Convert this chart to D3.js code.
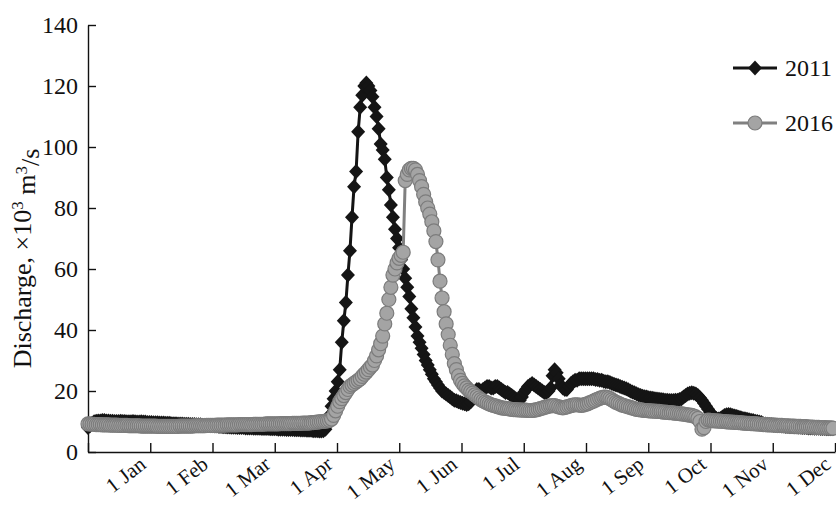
<!DOCTYPE html>
<html>
<head>
<meta charset="utf-8">
<script src="https://cdn.jsdelivr.net/npm/d3@7"></script>
<style>
  body { margin: 0; background: #fff; }
  svg text { font-family: "Liberation Serif", "DejaVu Serif", serif; fill: #111; }
</style>
</head>
<body>
<div id="chart"></div>
<script>
// month labels on the x axis (tick 0 is the axis start, unlabelled)
const monthLabels = ['1 Jan', '1 Feb', '1 Mar', '1 Apr', '1 May', '1 Jun',
                     '1 Jul', '1 Aug', '1 Sep', '1 Oct', '1 Nov', '1 Dec'];
const yTicks = [0, 20, 40, 60, 80, 100, 120, 140];
const seriesNames = ['2011', '2016'];

// daily discharge, x10^3 m3/s (day 0 = axis start)
const q2011 = [
  8.0, 8.6, 9.4, 9.9, 10.1, 10.2, 10.2, 10.3, 10.3, 10.2,
  10.2, 10.1, 10.1, 10.0, 10.0, 10.0, 10.1, 10.0, 10.0, 9.9,
  9.9, 9.9, 10.0, 9.9, 9.8, 9.8, 9.9, 9.8, 9.8, 9.7,
  9.7, 9.7, 9.6, 9.6, 9.6, 9.5, 9.5, 9.5, 9.4, 9.4,
  9.4, 9.3, 9.3, 9.3, 9.2, 9.2, 9.2, 9.1, 9.1, 9.1,
  9.0, 9.0, 9.0, 8.9, 8.9, 8.9, 8.8, 8.8, 8.7, 8.7,
  8.6, 8.6, 8.5, 8.5, 8.4, 8.4, 8.3, 8.3, 8.2, 8.2,
  8.1, 8.1, 8.1, 8.0, 8.0, 8.0, 8.0, 7.9, 7.9, 7.9,
  7.9, 7.8, 7.8, 7.8, 7.8, 7.7, 7.7, 7.7, 7.7, 7.6,
  7.6, 7.6, 7.6, 7.5, 7.5, 7.5, 7.5, 7.4, 7.4, 7.4,
  7.4, 7.3, 7.3, 7.3, 7.2, 7.2, 7.2, 7.1, 7.1, 7.1,
  7.0, 7.0, 7.0, 6.9, 6.9, 7.0, 7.5, 9.0, 12.0, 15.0,
  17.5, 20.0, 23.0, 27.0, 36.0, 43.0, 49.0, 58.0, 66.0, 77.0,
  87.0, 92.0, 105.0, 113.0, 117.0, 120.0, 121.0, 120.0, 118.5, 116.5,
  113.0, 110.0, 106.0, 101.0, 99.0, 96.0, 90.0, 86.0, 81.0, 77.0,
  73.0, 70.0, 67.0, 63.0, 60.0, 57.0, 54.0, 51.0, 47.0, 44.0,
  41.0, 38.0, 36.0, 34.0, 32.0, 30.0, 28.5, 27.0, 25.5, 24.0,
  23.0, 22.0, 21.0, 20.0, 19.5, 19.0, 18.5, 18.0, 17.5, 17.0,
  16.8, 16.5, 16.2, 16.0, 15.8, 15.6, 15.8, 16.5, 18.0, 19.5,
  20.5, 20.5, 20.0, 20.5, 21.0, 21.5, 21.5, 21.0, 21.0, 21.5,
  21.5, 21.0, 20.5, 20.0, 19.5, 19.5, 19.0, 18.5, 18.0, 17.5,
  17.0, 17.0, 18.0, 19.5, 20.5, 21.5, 22.0, 22.5, 22.0, 21.5,
  21.0, 20.5, 20.0, 19.5, 19.5, 20.0, 21.0, 25.0, 27.0, 26.0,
  24.0, 22.0, 21.0, 20.5, 20.5, 21.5, 22.5, 23.0, 23.5, 23.5,
  24.0, 24.0, 24.0, 24.0, 24.0, 24.0, 24.0, 24.0, 23.8, 23.8,
  23.5, 23.5, 23.2, 23.0, 23.0, 22.8, 22.5, 22.2, 22.0, 21.8,
  21.5, 21.2, 21.0, 20.7, 20.4, 20.0, 19.7, 19.4, 19.1, 18.8,
  18.5, 18.3, 18.1, 18.0, 17.8, 17.7, 17.6, 17.5, 17.4, 17.3,
  17.2, 17.1, 17.0, 17.0, 16.9, 16.9, 16.9, 17.0, 17.0, 17.2,
  17.5, 18.0, 18.5, 19.0, 19.3, 19.4, 19.3, 19.0, 18.5, 17.8,
  17.0, 16.0, 15.0, 14.0, 13.0, 12.2, 11.5, 11.0, 10.8, 11.0,
  11.5, 12.0, 12.2, 12.3, 12.2, 12.0, 11.8, 11.6, 11.4, 11.2,
  11.0, 10.9, 10.7, 10.6, 10.4, 10.3, 10.1, 10.0, 9.8, 9.7,
  9.3, 9.2, 9.1, 9.0, 8.9, 8.8, 8.7, 8.6, 8.6, 8.5,
  8.5, 8.4, 8.4, 8.3, 8.3, 8.2, 8.2, 8.1, 8.1, 8.0,
  8.0, 8.0, 7.9, 7.9, 7.9, 7.8, 7.8, 7.8, 7.7, 7.7,
  7.7, 7.6, 7.6, 7.6, 7.6
];

const q2016 = [
  9.2, 9.2, 9.1, 9.1, 9.0, 9.0, 9.0, 8.9, 8.9, 8.9,
  8.9, 8.8, 8.8, 8.8, 8.8, 8.7, 8.7, 8.7, 8.7, 8.7,
  8.6, 8.6, 8.6, 8.6, 8.6, 8.6, 8.5, 8.5, 8.5, 8.5,
  8.5, 8.5, 8.5, 8.5, 8.4, 8.4, 8.4, 8.4, 8.4, 8.4,
  8.4, 8.4, 8.4, 8.4, 8.4, 8.5, 8.5, 8.5, 8.5, 8.5,
  8.5, 8.5, 8.6, 8.6, 8.6, 8.6, 8.6, 8.6, 8.7, 8.7,
  8.7, 8.7, 8.7, 8.8, 8.8, 8.8, 8.8, 8.8, 8.9, 8.9,
  8.9, 8.9, 8.9, 8.9, 9.0, 9.0, 9.0, 9.0, 9.0, 9.0,
  9.0, 9.1, 9.1, 9.1, 9.1, 9.1, 9.1, 9.2, 9.2, 9.2,
  9.2, 9.2, 9.2, 9.2, 9.3, 9.3, 9.3, 9.3, 9.3, 9.3,
  9.4, 9.4, 9.4, 9.4, 9.4, 9.5, 9.5, 9.5, 9.5, 9.6,
  9.6, 9.7, 9.8, 9.9, 10.0, 10.0, 10.1, 10.2, 10.4, 10.8,
  12.0, 13.5, 15.0, 16.5, 17.5, 18.5, 19.5, 20.5, 21.5, 22.0,
  22.5, 23.0, 23.5, 24.0, 24.8, 25.5, 26.2, 27.0, 27.8, 28.5,
  30.0, 31.5, 33.5, 35.5, 38.0, 42.0, 45.5, 50.0, 54.0, 58.0,
  60.0, 62.0, 63.5, 64.5, 65.5, 89.0, 91.0, 92.5, 93.0, 93.0,
  92.5, 91.0, 89.0, 87.0, 84.5, 82.0, 80.0, 78.0, 75.5, 72.5,
  69.0, 63.0, 56.0, 50.5, 46.0, 42.0, 38.5, 35.0, 32.0, 29.0,
  27.0, 25.0, 23.5, 22.5, 21.7, 21.0, 20.3, 19.8, 19.3, 18.7,
  18.2, 17.7, 17.2, 16.8, 16.4, 16.1, 15.8, 15.5, 15.3, 15.1,
  14.9, 14.7, 14.5, 14.4, 14.3, 14.2, 14.1, 14.0, 13.9, 13.9,
  13.8, 13.8, 13.7, 13.7, 13.7, 13.6, 13.6, 13.6, 13.7, 13.8,
  14.0, 14.2, 14.4, 14.6, 14.8, 15.0, 15.1, 15.2, 15.2, 15.0,
  14.8, 14.6, 14.5, 14.6, 14.8, 15.0, 15.2, 15.4, 15.5, 15.5,
  15.4, 15.3, 15.4, 15.6, 15.8, 16.1, 16.4, 16.7, 17.0, 17.3,
  17.6, 17.8, 18.0, 18.0, 17.8, 17.5, 17.1, 16.7, 16.3, 16.0,
  15.7, 15.4, 15.2, 15.0, 14.8, 14.6, 14.4, 14.2, 14.0, 13.9,
  13.8, 13.7, 13.6, 13.6, 13.5, 13.5, 13.4, 13.4, 13.3, 13.3,
  13.2, 13.1, 13.1, 13.0, 12.9, 12.9, 12.8, 12.7, 12.7, 12.6,
  12.5, 12.4, 12.3, 12.2, 12.1, 12.0, 11.8, 11.5, 11.0, 10.0,
  7.5, 8.0, 10.0, 10.5, 10.4, 10.3, 10.2, 10.2, 10.1, 10.1,
  10.0, 10.0, 9.9, 9.9, 9.8, 9.8, 9.7, 9.7, 9.6, 9.6,
  9.5, 9.5, 9.4, 9.4, 9.3, 9.3, 9.2, 9.2, 9.1, 9.1,
  9.0, 9.0, 8.9, 8.9, 8.9, 8.8, 8.8, 8.7, 8.7, 8.7,
  8.6, 8.6, 8.6, 8.5, 8.5, 8.5, 8.4, 8.4, 8.4, 8.3,
  8.3, 8.3, 8.2, 8.2, 8.2, 8.1, 8.1, 8.1, 8.0, 8.0,
  8.0, 7.9, 7.9, 7.9, 7.8
];

const width = 836;
const height = 506;
const margin = { top: 25, right: 1, bottom: 54, left: 88 };
const nDays = 365;

const svg = d3.select('#chart')
  .append('svg')
  .attr('width', width)
  .attr('height', height);

const x = d3.scaleLinear()
  .domain([0, nDays])
  .range([margin.left, width - margin.right]);

const y = d3.scaleLinear()
  .domain([0, 140])
  .range([height - margin.bottom, margin.top]);

// month ticks are evenly spaced on the original axis
const monthTicks = d3.range(0, 13).map(k => k * nDays / 12);

// x axis, ticks pointing into the plot
const xAxis = svg.append('g')
  .attr('transform', `translate(0,${y(0)})`)
  .call(d3.axisBottom(x)
    .tickValues(monthTicks)
    .tickSizeInner(-9)
    .tickSizeOuter(0)
    .tickFormat((d, i) => i === 0 ? '' : monthLabels[i - 1]));

xAxis.selectAll('text')
  .attr('x', 0)
  .attr('y', 0)
  .attr('dy', '0.35em')
  .attr('text-anchor', 'end')
  .attr('transform', 'translate(-8,9) rotate(-38)')
  .style('font-size', '21px');

// y axis
const yAxis = svg.append('g')
  .attr('transform', `translate(${x(0)},0)`)
  .call(d3.axisLeft(y)
    .tickValues(yTicks)
    .tickSizeInner(-8)
    .tickSizeOuter(0)
    .tickPadding(10));

yAxis.selectAll('text').style('font-size', '24px');

svg.selectAll('.domain, .tick line')
  .attr('stroke', '#111')
  .attr('stroke-width', 1.4);

// y axis title
const title = svg.append('text')
  .attr('transform', `translate(31,${(y(0) + y(140)) / 2 + 20}) rotate(-90)`)
  .attr('text-anchor', 'middle')
  .style('font-size', '26px');
title.append('tspan').text('Discharge, \u00d710');
title.append('tspan').attr('dy', '-0.45em').style('font-size', '17px').text('3');
title.append('tspan').attr('dy', '0.45em').text(' m');
title.append('tspan').attr('dy', '-0.45em').style('font-size', '17px').text('3');
title.append('tspan').attr('dy', '0.45em').text('/s');

const line = d3.line()
  .x((d, i) => x(i))
  .y(d => y(d))
  .curve(d3.curveLinear);

const diamond = 'M0,-7.5L7,0L0,7.5L-7,0Z';

// 2011 series: black diamonds
svg.append('path')
  .datum(q2011)
  .attr('d', line)
  .attr('fill', 'none')
  .attr('stroke', '#141414')
  .attr('stroke-width', 3);

svg.append('g')
  .selectAll('path')
  .data(q2011)
  .enter()
  .append('path')
  .attr('d', diamond)
  .attr('transform', (d, i) => `translate(${x(i)},${y(d)})`)
  .attr('fill', '#151515');

// 2016 series: grey circles drawn on top
svg.append('path')
  .datum(q2016)
  .attr('d', line)
  .attr('fill', 'none')
  .attr('stroke', '#808080')
  .attr('stroke-width', 3);

svg.append('g')
  .selectAll('circle')
  .data(q2016)
  .enter()
  .append('circle')
  .attr('cx', (d, i) => x(i))
  .attr('cy', d => y(d))
  .attr('r', 7)
  .attr('fill', '#a4a4a4')
  .attr('stroke', '#7c7c7c')
  .attr('stroke-width', 1.2);

// legend
const legend = svg.append('g').attr('transform', 'translate(733,68)');
seriesNames.forEach((name, i) => {
  const g = legend.append('g').attr('transform', `translate(0,${i * 55})`);
  g.append('line')
    .attr('x1', 0).attr('x2', 44)
    .attr('stroke', i === 0 ? '#141414' : '#808080')
    .attr('stroke-width', 3);
  if (i === 0) {
    g.append('path').attr('d', diamond).attr('transform', 'translate(22,0)').attr('fill', '#151515');
  } else {
    g.append('circle').attr('cx', 22).attr('r', 7)
      .attr('fill', '#a4a4a4').attr('stroke', '#7c7c7c').attr('stroke-width', 1.2);
  }
  g.append('text')
    .attr('x', 52)
    .attr('dy', '0.35em')
    .style('font-size', '24px')
    .text(name);
});
</script>
</body>
</html>
